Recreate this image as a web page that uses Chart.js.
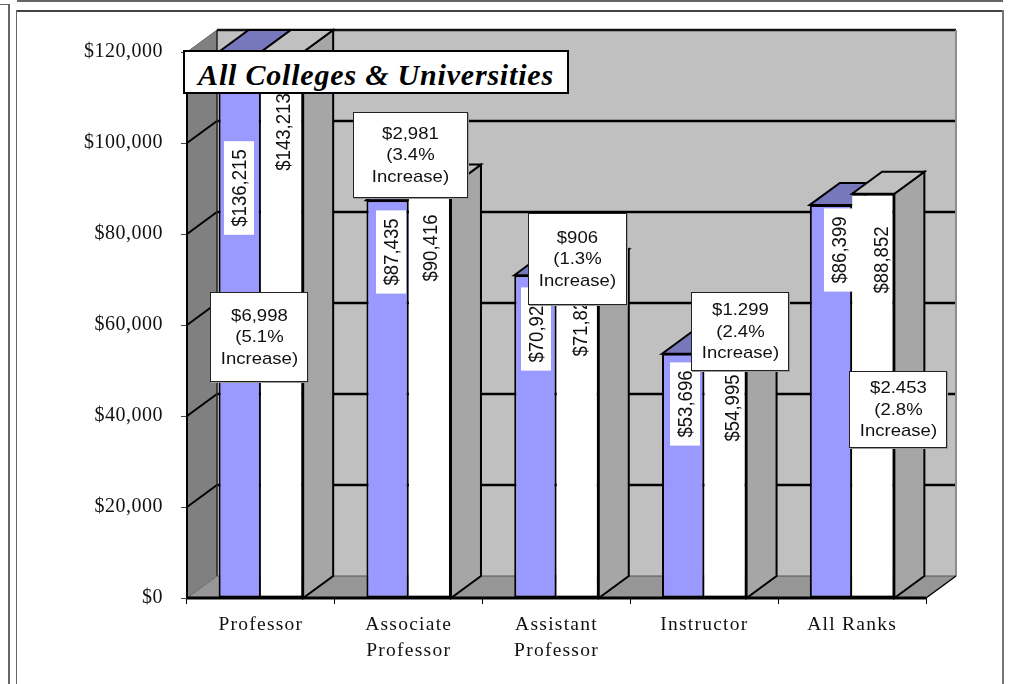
<!DOCTYPE html>
<html>
<head>
<meta charset="utf-8">
<script src="https://cdn.jsdelivr.net/npm/chart.js@4"></script>
<style>
    html, body { margin: 0; padding: 0; background: #fff; overflow: hidden; }
    #page { position: relative; width: 1009px; height: 684px; overflow: hidden; }
    #chart { position: absolute; left: 0; top: 0; }
    .rule { position: absolute; background: #666; }
    .callout {
        position: absolute; box-sizing: border-box; background: #fff;
        border: 1px solid #222; box-shadow: 1px 1px 0 #999;
        display: flex; align-items: center; justify-content: center; text-align: center;
        font: 17px/21.6px "Liberation Sans", Arial, sans-serif; color: #111;
    }
    .callout span { display: block; transform: scaleX(1.09); white-space: nowrap; }
    #title {
        position: absolute; left: 183px; top: 50px; width: 386px; height: 44px;
        box-sizing: border-box; background: #fff; border: 2.5px solid #000;
        font: italic bold 30px/45px "Liberation Serif", serif; letter-spacing: 0.8px;
        text-align: center; color: #000; white-space: nowrap; overflow: hidden;
    }
</style>
</head>
<body>
<div id="page">
    <div class="rule" style="left:17px;top:0;width:986px;height:2px"></div>
    <div class="rule" style="left:0;top:4px;width:9px;height:1px"></div>
    <div class="rule" style="left:8px;top:4px;width:2px;height:680px"></div>
    <div class="rule" style="left:16px;top:10px;width:987px;height:2px;background:#444"></div>
    <div class="rule" style="left:16px;top:10px;width:1px;height:674px"></div>
    <div class="rule" style="left:1002px;top:10px;width:2px;height:674px;background:#777"></div>
    <canvas id="chart" width="1009" height="684"></canvas>
    <div id="title">All Colleges &amp; Universities</div>
</div>

<script>
const categories = [['Professor'], ['Associate', 'Professor'], ['Assistant', 'Professor'], ['Instructor'], ['All Ranks']];
const earlierSalary = [136215, 87435, 70921, 53696, 86399];
const laterSalary = [143213, 90416, 71827, 54995, 88852];
const yTicks = [0, 20000, 40000, 60000, 80000, 100000, 120000];
const calloutText = [
    ['$6,998', '(5.1%', 'Increase)'],
    ['$2,981', '(3.4%', 'Increase)'],
    ['$906', '(1.3%', 'Increase)'],
    ['$1.299', '(2.4%', 'Increase)'],
    ['$2.453', '(2.8%', 'Increase)']
];

// where the text boxes sit on the page: left, top, width, height
const calloutBoxes = [
    [210, 292, 98, 90],
    [353, 112, 115, 86],
    [528, 213, 99, 92],
    [691, 292, 98, 79],
    [849, 371, 98, 77]
];
// centre of the rotated value labels, placed by hand in the original
const earlierLabelPos = [[239, 188], [391, 252], [536, 329], [685, 404], [839, 250]];
const laterLabelPos = [[283, 132], [430, 248], [580, 323], [732, 408], [881, 260]];

const depthX = 30;
const depthY = 22;

function fmtMoney(v) {
    return '$' + v.toLocaleString('en-US');
}

function poly(ctx, pts, fill, stroke, lw) {
    ctx.beginPath();
    pts.forEach(function (p, i) {
        if (i === 0) ctx.moveTo(p[0], p[1]);
        else ctx.lineTo(p[0], p[1]);
    });
    ctx.closePath();
    if (fill) {
        ctx.fillStyle = fill;
        ctx.fill();
    }
    if (stroke) {
        ctx.strokeStyle = stroke;
        ctx.lineWidth = lw;
        ctx.stroke();
    }
}

function line(ctx, x1, y1, x2, y2, color, lw) {
    ctx.beginPath();
    ctx.moveTo(x1, y1);
    ctx.lineTo(x2, y2);
    ctx.strokeStyle = color;
    ctx.lineWidth = lw;
    ctx.stroke();
}

function drawUp(ctx, txt, x, y) {
    ctx.save();
    ctx.translate(x, y);
    ctx.rotate(-Math.PI / 2);
    ctx.scale(0.93, 1);
    ctx.fillStyle = '#111';
    ctx.fillText(txt, 0, 1);
    ctx.restore();
}

// the tick fonts have wider spacing in the original than the library offers
function spaceLabels(scale, px) {
    const drawLabels = scale.drawLabels;
    scale.drawLabels = function (area) {
        scale.ctx.letterSpacing = px;
        drawLabels.call(scale, area);
        scale.ctx.letterSpacing = '0px';
    };
}

const box3d = {
    id: 'box3d',
    beforeDraw: function (chart) {
        if (chart.$spaced) return;
        chart.$spaced = true;
        spaceLabels(chart.scales.x, '1.25px');
        spaceLabels(chart.scales.y, '0.5px');
    },
    beforeDatasetsDraw: function (chart) {
        const ctx = chart.ctx;
        const a = chart.chartArea;
        const y = chart.scales.y;
        ctx.save();

        // walls and floor
        poly(ctx, [[a.left + depthX, a.top - depthY], [a.right + depthX, a.top - depthY],
            [a.right + depthX, a.bottom - depthY], [a.left + depthX, a.bottom - depthY]], '#c0c0c0');
        poly(ctx, [[a.left, a.top], [a.left + depthX, a.top - depthY],
            [a.left + depthX, a.bottom - depthY], [a.left, a.bottom]], '#808080');
        poly(ctx, [[a.left, a.bottom], [a.left + depthX, a.bottom - depthY],
            [a.right + depthX, a.bottom - depthY], [a.right, a.bottom]], '#969696');

        // gridlines go across the back wall and down the left wall
        yTicks.forEach(function (t) {
            const py = y.getPixelForValue(t);
            if (t > 0 && t < 120000) {
                line(ctx, a.left + depthX, py - depthY, a.right + depthX, py - depthY, '#000', 2.5);
                line(ctx, a.left, py, a.left + depthX, py - depthY, '#000', 2);
            }
        });
        line(ctx, a.left + depthX, a.top - depthY, a.right + depthX, a.top - depthY, '#111', 2.5);
        line(ctx, a.left, a.top, a.left + depthX, a.top - depthY, '#666', 1);
        line(ctx, a.left + depthX, a.top - depthY, a.left + depthX, a.bottom - depthY, '#222', 1.5);
        line(ctx, a.right + depthX, a.top - depthY, a.right + depthX, a.bottom - depthY, '#8c8c8c', 2);
        line(ctx, a.left + depthX, a.bottom - depthY, a.right + depthX, a.bottom - depthY, '#555', 1);
        line(ctx, a.left, a.bottom, a.left + depthX, a.bottom - depthY, '#666', 1);
        line(ctx, a.right, a.bottom, a.right + depthX, a.bottom - depthY, '#000', 1.5);

        // tops and sides of the bars, the fronts come from the library
        const tops = ['#7777bb', '#c0c0c0'];
        [0, 1].forEach(function (d) {
            chart.getDatasetMeta(d).data.forEach(function (bar) {
                const top = Math.max(bar.y, a.top);
                const l = bar.x - bar.width / 2;
                const r = bar.x + bar.width / 2;
                if (d === 1) {
                    poly(ctx, [[r, top], [r + depthX, top - depthY], [r + depthX, a.bottom - depthY],
                        [r, a.bottom]], '#a6a6a6', '#000', 2);
                }
                poly(ctx, [[l, top], [l + depthX, top - depthY], [r + depthX, top - depthY], [r, top]],
                    tops[d], '#000', 2);
            });
        });
        ctx.restore();
    },
    afterDatasetsDraw: function (chart) {
        const ctx = chart.ctx;
        const a = chart.chartArea;
        ctx.save();
        line(ctx, a.left, a.bottom, a.right, a.bottom, '#000', 3);
        line(ctx, a.left, a.top, a.left, a.bottom, '#000', 2);

        // rotated value labels
        ctx.font = '20px "Liberation Sans", Arial, sans-serif';
        ctx.textAlign = 'center';
        ctx.textBaseline = 'middle';
        earlierSalary.forEach(function (v, i) {
            const txt = fmtMoney(v);
            const p = earlierLabelPos[i];
            const h = ctx.measureText(txt).width * 0.93 + 16;
            ctx.fillStyle = '#fff';
            ctx.fillRect(p[0] - 15, p[1] - h / 2, 30, h);
            drawUp(ctx, txt, p[0], p[1]);
        });
        laterSalary.forEach(function (v, i) {
            drawUp(ctx, fmtMoney(v), laterLabelPos[i][0], laterLabelPos[i][1]);
        });
        ctx.restore();
    }
};

new Chart(document.getElementById('chart').getContext('2d'), {
    type: 'bar',
    data: {
        labels: categories,
        datasets: [
            { label: 'Earlier', data: earlierSalary, backgroundColor: '#9999ff', borderColor: '#000', borderWidth: 2, borderSkipped: false },
            { label: 'Later', data: laterSalary, backgroundColor: '#ffffff', borderColor: '#000', borderWidth: { top: 2, right: 2, bottom: 2, left: 0 }, borderSkipped: false }
        ]
    },
    options: {
        responsive: false,
        animation: false,
        layout: { padding: { left: 0, top: 52, right: 83, bottom: 0 } },
        plugins: { legend: { display: false }, tooltip: { enabled: false } },
        datasets: { bar: { categoryPercentage: 0.572, barPercentage: 1 } },
        scales: {
            x: {
                afterFit: function (scale) { scale.height = 86; },
                grid: { drawOnChartArea: false, color: '#000', tickLength: 6 },
                border: { display: false },
                ticks: {
                    color: '#111', padding: 8, maxRotation: 0, autoSkip: false,
                    font: { family: '"Liberation Serif", serif', size: 19.5, lineHeight: 1.33 }
                }
            },
            y: {
                min: 0,
                max: 120000,
                afterFit: function (scale) { scale.width = 187; },
                afterBuildTicks: function (scale) {
                    scale.ticks = yTicks.map(function (v) { return { value: v }; });
                },
                grid: { drawOnChartArea: false, color: '#444', tickLength: 6 },
                border: { display: false },
                ticks: {
                    color: '#111', padding: 18,
                    font: { family: '"Liberation Serif", serif', size: 20 },
                    callback: function (v) { return fmtMoney(v); }
                }
            }
        }
    },
    plugins: [box3d]
});

calloutText.forEach(function (lines, i) {
    const b = calloutBoxes[i];
    const div = document.createElement('div');
    div.className = 'callout';
    div.style.left = b[0] + 'px';
    div.style.top = b[1] + 'px';
    div.style.width = b[2] + 'px';
    div.style.height = b[3] + 'px';
    div.innerHTML = '<span>' + lines.join('<br>') + '</span>';
    document.getElementById('page').appendChild(div);
});
</script>
</body>
</html>
